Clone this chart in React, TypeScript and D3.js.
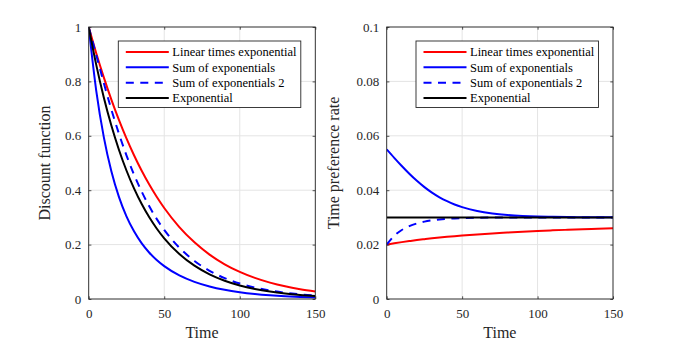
import React, { useEffect, useRef } from 'react';
import * as d3 from 'd3';

// time grid the curves were read at
const times = [0, 5, 10, 15, 20, 25, 30, 35, 40, 45, 50, 60, 70, 80, 90, 100, 110, 120, 130, 140, 150];

// left panel: discount function
const linExpDiscount = [1, 0.9037, 0.8149, 0.7332, 0.6586, 0.5905, 0.5286, 0.4724, 0.4217, 0.3758, 0.3347, 0.2645, 0.2083, 0.1633, 0.1277, 0.0996, 0.0775, 0.0601, 0.0465, 0.036, 0.0278];
const sumExpDiscount = [1, 0.7655, 0.5951, 0.4694, 0.3754, 0.3039, 0.2487, 0.2054, 0.171, 0.1433, 0.1207, 0.0868, 0.0631, 0.0462, 0.034, 0.0251, 0.0185, 0.0137, 0.0101, 0.0075, 0.0056];
const sumExp2Discount = [1, 0.897, 0.7941, 0.6968, 0.6079, 0.5282, 0.4576, 0.3956, 0.3416, 0.2946, 0.254, 0.1886, 0.1399, 0.1036, 0.0768, 0.0569, 0.0422, 0.0312, 0.0231, 0.0171, 0.0127];
const expDiscount = [1, 0.8607, 0.7408, 0.6376, 0.5488, 0.4724, 0.4066, 0.3499, 0.3012, 0.2592, 0.2231, 0.1653, 0.1225, 0.0907, 0.0672, 0.0498, 0.0369, 0.0273, 0.0202, 0.015, 0.0111];

// right panel: time preference rate
const linExpRate = [0.02, 0.02048, 0.02091, 0.0213, 0.02167, 0.022, 0.02231, 0.02259, 0.02286, 0.0231, 0.02333, 0.02375, 0.02412, 0.02444, 0.02474, 0.025, 0.02524, 0.02545, 0.02565, 0.02583, 0.026];
const sumExpRate = [0.055, 0.05189, 0.04888, 0.04604, 0.04345, 0.04113, 0.03912, 0.0374, 0.03596, 0.03476, 0.03379, 0.03237, 0.03147, 0.0309, 0.03055, 0.03033, 0.0302, 0.03012, 0.03008, 0.03005, 0.03003];
const sumExp2Rate = [0.02, 0.02324, 0.02537, 0.0268, 0.02777, 0.02845, 0.02891, 0.02924, 0.02946, 0.02962, 0.02973, 0.02987, 0.02993, 0.02997, 0.02998, 0.02999, 0.03, 0.03, 0.03, 0.03, 0.03];
const expRate = [0.03, 0.03, 0.03, 0.03, 0.03, 0.03, 0.03, 0.03, 0.03, 0.03, 0.03, 0.03, 0.03, 0.03, 0.03, 0.03, 0.03, 0.03, 0.03, 0.03, 0.03];

const seriesNames = ['Linear times exponential', 'Sum of exponentials', 'Sum of exponentials 2', 'Exponential'];
const seriesColors = ['#ff0000', '#0000ff', '#0000ff', '#000000'];
const seriesDashed = [false, false, true, false];

const xTicks = [0, 50, 100, 150];
const xTickLabels = ['0', '50', '100', '150'];
const discountTicks = [0, 0.2, 0.4, 0.6, 0.8, 1];
const discountTickLabels = ['0', '0.2', '0.4', '0.6', '0.8', '1'];
const rateTicks = [0, 0.02, 0.04, 0.06, 0.08, 0.1];
const rateTickLabels = ['0', '0.02', '0.04', '0.06', '0.08', '0.1'];

const FONT = '"Liberation Serif", "Times New Roman", serif';
const AXIS = '#262626';
const W = 679;
const H = 346;
const TOP = 27;
const BOTTOM = 299;

const drawPanel = (svg, p) => {
  const x = d3.scaleLinear().domain([0, 150]).range([p.x0, p.x1]);
  const y = d3.scaleLinear().domain([0, p.yMax]).range([BOTTOM, TOP]);

  // grid
  svg.append('g').selectAll('line').data(xTicks).enter().append('line')
    .attr('x1', d => x(d)).attr('x2', d => x(d))
    .attr('y1', TOP).attr('y2', BOTTOM)
    .attr('stroke', '#e4e4e4').attr('stroke-width', 1);
  svg.append('g').selectAll('line').data(p.yTicks).enter().append('line')
    .attr('x1', p.x0).attr('x2', p.x1)
    .attr('y1', d => y(d)).attr('y2', d => y(d))
    .attr('stroke', '#e4e4e4').attr('stroke-width', 1);

  // curves
  const clipId = 'clip-' + p.id;
  svg.append('clipPath').attr('id', clipId).append('rect')
    .attr('x', p.x0).attr('y', TOP).attr('width', p.x1 - p.x0).attr('height', BOTTOM - TOP);

  const line = d3.line()
    .x(d => x(d[0]))
    .y(d => y(d[1]))
    .curve(d3.curveMonotoneX);

  const curves = svg.append('g').attr('clip-path', `url(#${clipId})`);
  p.series.forEach((vals, i) => {
    curves.append('path')
      .datum(times.map((t, j) => [t, vals[j]]))
      .attr('d', line)
      .attr('fill', 'none')
      .attr('stroke', seriesColors[i])
      .attr('stroke-width', 2)
      .attr('stroke-dasharray', seriesDashed[i] ? '8,6.5' : null);
  });

  // axes with inward ticks
  const styleAxis = g => {
    g.select('.domain').remove();
    g.selectAll('line').attr('stroke', AXIS).attr('stroke-width', 0.8);
    g.selectAll('text').attr('fill', AXIS).attr('font-family', FONT).attr('font-size', 13);
  };
  svg.append('g')
    .attr('transform', `translate(0,${BOTTOM})`)
    .call(d3.axisBottom(x).tickValues(xTicks).tickSizeInner(-2.7).tickSizeOuter(0).tickPadding(10)
      .tickFormat((d, i) => xTickLabels[i]))
    .call(styleAxis);
  svg.append('g')
    .attr('transform', `translate(0,${TOP})`)
    .call(d3.axisTop(x).tickValues(xTicks).tickSizeInner(-2.7).tickSizeOuter(0).tickFormat(() => ''))
    .call(styleAxis);
  svg.append('g')
    .attr('transform', `translate(${p.x0},0)`)
    .call(d3.axisLeft(y).tickValues(p.yTicks).tickSizeInner(-2.7).tickSizeOuter(0).tickPadding(7.5)
      .tickFormat((d, i) => p.yTickLabels[i]))
    .call(styleAxis);
  svg.append('g')
    .attr('transform', `translate(${p.x1},0)`)
    .call(d3.axisRight(y).tickValues(p.yTicks).tickSizeInner(-2.7).tickSizeOuter(0).tickFormat(() => ''))
    .call(styleAxis);

  // box
  svg.append('rect')
    .attr('x', p.x0).attr('y', TOP)
    .attr('width', p.x1 - p.x0).attr('height', BOTTOM - TOP)
    .attr('fill', 'none').attr('stroke', AXIS).attr('stroke-width', 0.9);

  // axis labels
  svg.append('text')
    .attr('x', (p.x0 + p.x1) / 2).attr('y', 338)
    .attr('text-anchor', 'middle')
    .attr('font-family', FONT).attr('font-size', 16).attr('fill', AXIS)
    .text('Time');
  svg.append('text')
    .attr('transform', `translate(${p.yLabelX},${(TOP + BOTTOM) / 2}) rotate(-90)`)
    .attr('text-anchor', 'middle')
    .attr('font-family', FONT).attr('font-size', 16).attr('fill', AXIS)
    .text(p.yLabel);

  // legend
  const lw = 182.5;
  const lx = p.x1 - 14.5 - lw;
  const ly = 41;
  const lg = svg.append('g');
  lg.append('rect')
    .attr('x', lx).attr('y', ly).attr('width', lw).attr('height', 66.5)
    .attr('fill', '#fff').attr('stroke', AXIS).attr('stroke-width', 0.9);
  seriesNames.forEach((name, i) => {
    const ry = ly + 11 + i * 15.35;
    lg.append('line')
      .attr('x1', lx + 7.5).attr('x2', lx + 50.5)
      .attr('y1', ry).attr('y2', ry)
      .attr('stroke', seriesColors[i]).attr('stroke-width', 2)
      .attr('stroke-dasharray', seriesDashed[i] ? '8,6.5' : null);
    lg.append('text')
      .attr('x', lx + 54).attr('y', ry).attr('dy', '0.35em')
      .attr('font-family', FONT).attr('font-size', 12.5).attr('fill', '#000')
      .text(name);
  });
};

const App = () => {
  const chartRef = useRef(null);

  useEffect(() => {
    const svg = d3.select(chartRef.current);
    svg.selectAll('*').remove();
    svg.append('rect').attr('width', W).attr('height', H).attr('fill', '#fff');

    drawPanel(svg, {
      id: 'discount',
      x0: 88.7,
      x1: 315.3,
      yMax: 1,
      yTicks: discountTicks,
      yTickLabels: discountTickLabels,
      yLabel: 'Discount function',
      yLabelX: 50,
      series: [linExpDiscount, sumExpDiscount, sumExp2Discount, expDiscount]
    });

    drawPanel(svg, {
      id: 'rate',
      x0: 386.7,
      x1: 613,
      yMax: 0.1,
      yTicks: rateTicks,
      yTickLabels: rateTickLabels,
      yLabel: 'Time preference rate',
      yLabelX: 339,
      series: [linExpRate, sumExpRate, sumExp2Rate, expRate]
    });
  }, []);

  return <svg ref={chartRef} width={W} height={H} style={{ position: 'absolute', left: 0, top: 0 }} />;
};

export default App;
